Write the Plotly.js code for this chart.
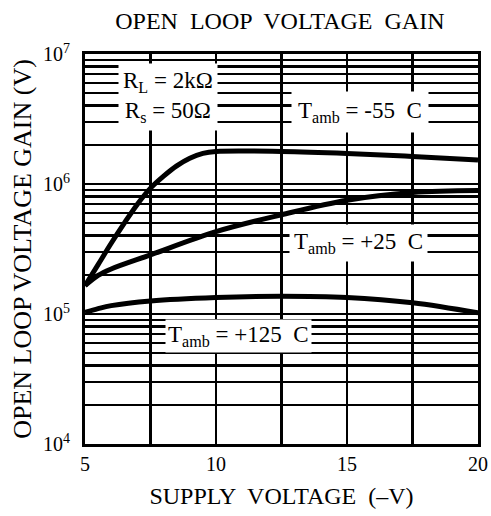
<!DOCTYPE html>
<html>
<head>
<meta charset="utf-8">
<script src="https://cdn.plot.ly/plotly-3.0.1.min.js"></script>
<style>html,body{margin:0;padding:0;background:#fff;}#chart{width:491px;height:516px;}</style>
</head>
<body>
<div id="chart"></div>
<script>
// Supply voltage (-V)
const vM55 = [5, 5.5, 6, 6.5, 7, 7.5, 8, 8.5, 9, 9.5, 10, 12.5, 15, 17.5, 20];
const gainM55 = [1.65e5, 2.4e5, 3.5e5, 5.0e5, 7.0e5, 9.3e5, 1.15e6, 1.38e6, 1.58e6, 1.72e6, 1.78e6, 1.78e6, 1.72e6, 1.63e6, 1.53e6];
const v25 = [5, 5.5, 6, 7.5, 10, 12.5, 15, 17.5, 20];
const gain25 = [1.65e5, 1.98e5, 2.22e5, 2.85e5, 4.3e5, 5.8e5, 7.5e5, 8.6e5, 8.9e5];
const v125 = [5, 5.5, 6, 7.5, 10, 12.5, 15, 17.5, 20];
const gain125 = [1.03e5, 1.1e5, 1.16e5, 1.26e5, 1.34e5, 1.37e5, 1.34e5, 1.22e5, 1.02e5];
const xTicks = [5, 7.5, 10, 12.5, 15, 17.5, 20];
const xTickText = ['5', ' ', '10', ' ', '15', ' ', '20'];
const yTicks = [1e4, 2e4, 3e4, 4e4, 5e4, 6e4, 7e4, 8e4, 9e4,
                1e5, 2e5, 3e5, 4e5, 5e5, 6e5, 7e5, 8e5, 9e5,
                1e6, 2e6, 3e6, 4e6, 5e6, 6e6, 7e6, 8e6, 9e6, 1e7];
const yTickText = ['10<sup>4</sup>', ' ', ' ', ' ', ' ', ' ', ' ', ' ', ' ',
                   '10<sup>5</sup>', ' ', ' ', ' ', ' ', ' ', ' ', ' ', ' ',
                   '10<sup>6</sup>', ' ', ' ', ' ', ' ', ' ', ' ', ' ', ' ', '10<sup>7</sup>'];
const labels = ['R<sub>L</sub> = 2kΩ<br>R<sub>s</sub> = 50Ω', 'T<sub>amb</sub> = -55  C', 'T<sub>amb</sub> = +25  C', 'T<sub>amb</sub> = +125  C'];

const FONT = 'Liberation Serif';
const lineStyle = {color: 'black', width: 5, shape: 'spline', smoothing: 1};
const traces = [
  {x: vM55, y: gainM55, mode: 'lines', line: lineStyle, hoverinfo: 'skip'},
  {x: v25, y: gain25, mode: 'lines', line: lineStyle, hoverinfo: 'skip'},
  {x: v125, y: gain125, mode: 'lines', line: lineStyle, hoverinfo: 'skip'}
];

const annFont = {family: FONT, size: 23, color: 'black'};
const layout = {
  width: 491, height: 516,
  margin: {l: 85, r: 13, t: 54, b: 72},
  paper_bgcolor: 'white', plot_bgcolor: 'white',
  showlegend: false,
  font: {family: FONT, size: 20, color: 'black'},
  title: {text: 'OPEN  LOOP  VOLTAGE  GAIN', font: {family: FONT, size: 24, color: 'black'},
          xref: 'container', x: 0.57, xanchor: 'center', yref: 'container', y: 0.961, yanchor: 'middle'},
  xaxis: {
    range: [5, 20], tickmode: 'array', tickvals: xTicks, ticktext: xTickText,
    showgrid: true, gridcolor: '#000000', gridwidth: 2.5,
    showline: true, mirror: true, linecolor: 'black', linewidth: 3,
    zeroline: false,
    tickfont: {family: FONT, size: 20, color: 'black'},
    title: {text: 'SUPPLY  VOLTAGE  (–V)', font: {family: FONT, size: 24, color: 'black'}, standoff: 14}
  },
  yaxis: {
    type: 'log', range: [4, 7], tickmode: 'array', tickvals: yTicks, ticktext: yTickText,
    showgrid: true, gridcolor: '#000000', gridwidth: 2.5,
    showline: true, mirror: true, linecolor: 'black', linewidth: 3,
    zeroline: false, ticklabelstandoff: 8,
    tickfont: {family: FONT, size: 20, color: 'black'},
    title: {text: 'OPEN LOOP VOLTAGE GAIN (V)', font: {family: FONT, size: 26, color: 'black'}, standoff: 4}
  },
  annotations: [
    {text: labels[0], xref: 'paper', yref: 'paper', x: 0.21, y: 0.89, showarrow: false, font: annFont,
     bgcolor: 'white', borderpad: 4, xanchor: 'center', yanchor: 'middle', align: 'center'},
    {text: labels[1], xref: 'paper', yref: 'paper', x: 0.70, y: 0.852, showarrow: false, font: annFont,
     bgcolor: 'white', borderpad: 6, xanchor: 'center', yanchor: 'middle'},
    {text: labels[2], xref: 'paper', yref: 'paper', x: 0.697, y: 0.515, showarrow: false, font: annFont,
     bgcolor: 'white', borderpad: 4, xanchor: 'center', yanchor: 'middle'},
    {text: labels[3], xref: 'paper', yref: 'paper', x: 0.39, y: 0.277, showarrow: false, font: annFont,
     bgcolor: 'white', borderpad: 2, xanchor: 'center', yanchor: 'middle'}
  ]
};
Plotly.newPlot('chart', traces, layout, {displayModeBar: false, staticPlot: true});
</script>
</body>
</html>
